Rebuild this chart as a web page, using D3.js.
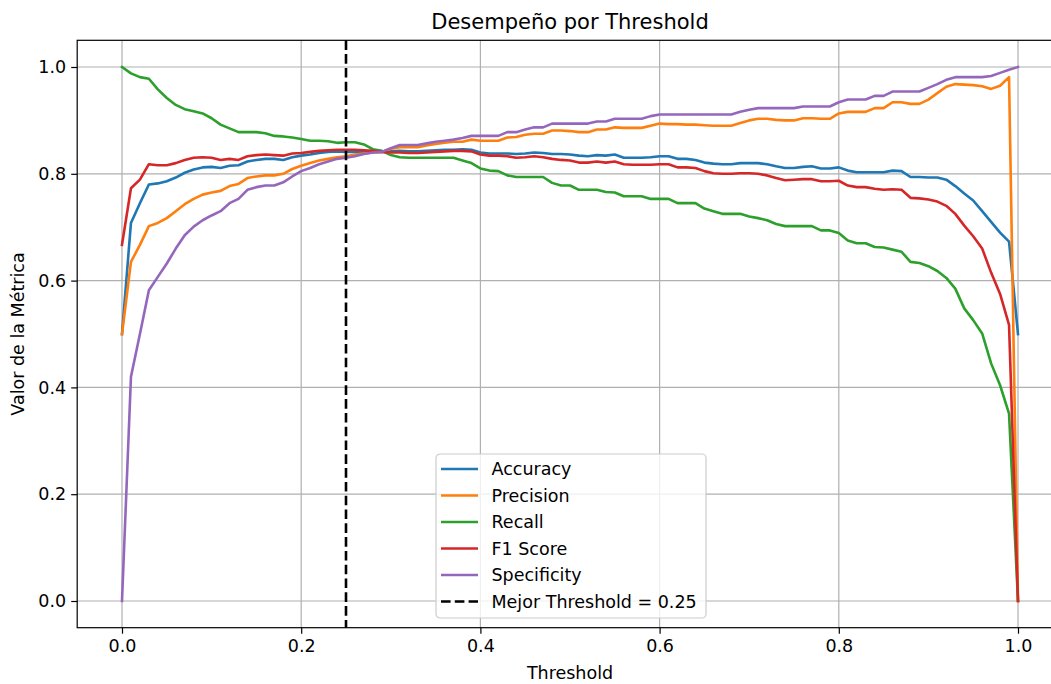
<!DOCTYPE html>
<html>
<head>
<meta charset="utf-8">
<script src="https://cdn.jsdelivr.net/npm/d3@7"></script>
<style>
  html, body { margin: 0; padding: 0; background: #fff; }
  svg { display: block; font-family: "DejaVu Sans", sans-serif; }
</style>
</head>
<body>
<svg id="chart" width="1051" height="684"></svg>
<script>
// Thresholds evaluated: 0.00 .. 1.00 in steps of 0.01
const thresholds = d3.range(101).map(i => +(i / 100).toFixed(2));

const accuracy = [
  0.500, 0.708, 0.745, 0.780, 0.782, 0.786, 0.793, 0.802, 0.808, 0.812,
  0.813, 0.811, 0.815, 0.816, 0.823, 0.826, 0.828, 0.828, 0.826, 0.831,
  0.834, 0.836, 0.839, 0.841, 0.842, 0.841, 0.841, 0.841, 0.841, 0.841,
  0.842, 0.843, 0.842, 0.842, 0.843, 0.844, 0.845, 0.845, 0.846, 0.845,
  0.840, 0.838, 0.838, 0.838, 0.837, 0.838, 0.840, 0.839, 0.837, 0.837,
  0.836, 0.834, 0.833, 0.835, 0.834, 0.836, 0.830, 0.830, 0.830, 0.831,
  0.833, 0.833, 0.828, 0.828, 0.826, 0.821, 0.819, 0.818, 0.818, 0.820,
  0.820, 0.820, 0.818, 0.814, 0.811, 0.811, 0.813, 0.814, 0.810, 0.810,
  0.812, 0.806, 0.803, 0.803, 0.803, 0.803, 0.806, 0.805, 0.794, 0.794,
  0.793, 0.793, 0.789, 0.777, 0.763, 0.750, 0.730, 0.710, 0.690, 0.673,
  0.500
];

const precision = [
  0.500, 0.635, 0.667, 0.702, 0.708, 0.717, 0.730, 0.743, 0.753, 0.761,
  0.765, 0.768, 0.777, 0.781, 0.792, 0.795, 0.797, 0.797, 0.800, 0.809,
  0.815, 0.820, 0.825, 0.828, 0.831, 0.833, 0.836, 0.838, 0.840, 0.841,
  0.847, 0.850, 0.850, 0.850, 0.853, 0.856, 0.858, 0.860, 0.860, 0.864,
  0.862, 0.862, 0.862, 0.868, 0.869, 0.873, 0.875, 0.875, 0.881, 0.881,
  0.880, 0.878, 0.878, 0.883, 0.883, 0.887, 0.886, 0.886, 0.886, 0.890,
  0.894, 0.893, 0.893, 0.892, 0.892, 0.891, 0.890, 0.890, 0.890, 0.895,
  0.900, 0.903, 0.903, 0.901, 0.900, 0.900, 0.904, 0.904, 0.903, 0.903,
  0.913, 0.916, 0.916, 0.916, 0.923, 0.923, 0.934, 0.934, 0.931, 0.931,
  0.939, 0.951, 0.963, 0.968, 0.967, 0.966, 0.964, 0.959, 0.965, 0.981,
  0.000
];

const recall = [
  1.000, 0.988, 0.981, 0.978, 0.958, 0.942, 0.929, 0.921, 0.917, 0.913,
  0.904, 0.892, 0.885, 0.878, 0.878, 0.878, 0.876, 0.871, 0.870, 0.868,
  0.865, 0.862, 0.862, 0.861, 0.858, 0.859, 0.859, 0.855, 0.846, 0.843,
  0.835, 0.831, 0.830, 0.830, 0.830, 0.830, 0.830, 0.830, 0.825, 0.820,
  0.810, 0.806, 0.805, 0.797, 0.794, 0.794, 0.794, 0.794, 0.783, 0.778,
  0.778, 0.770, 0.770, 0.770, 0.766, 0.765, 0.758, 0.758, 0.758, 0.753,
  0.753, 0.753, 0.745, 0.745, 0.745, 0.735, 0.730, 0.725, 0.725, 0.725,
  0.720, 0.717, 0.713, 0.706, 0.702, 0.702, 0.702, 0.702, 0.694, 0.694,
  0.689, 0.675, 0.670, 0.670, 0.663, 0.662, 0.658, 0.654, 0.635, 0.633,
  0.627, 0.618, 0.605, 0.585, 0.548, 0.526, 0.501, 0.445, 0.404, 0.351,
  0.000
];

const f1Score = [
  0.667, 0.773, 0.789, 0.818, 0.816, 0.816, 0.820, 0.826, 0.830, 0.831,
  0.830, 0.826, 0.828, 0.826, 0.833, 0.835, 0.836, 0.835, 0.834, 0.838,
  0.839, 0.841, 0.843, 0.844, 0.845, 0.845, 0.845, 0.844, 0.843, 0.841,
  0.840, 0.840, 0.839, 0.839, 0.840, 0.841, 0.842, 0.843, 0.843, 0.842,
  0.836, 0.834, 0.834, 0.833, 0.830, 0.831, 0.833, 0.831, 0.828, 0.826,
  0.825, 0.821, 0.821, 0.823, 0.821, 0.823, 0.818, 0.817, 0.817, 0.817,
  0.818, 0.818, 0.812, 0.812, 0.811, 0.805, 0.801, 0.800, 0.800, 0.801,
  0.801, 0.800, 0.797, 0.792, 0.788, 0.789, 0.790, 0.790, 0.786, 0.786,
  0.787, 0.778, 0.775, 0.775, 0.772, 0.770, 0.771, 0.770, 0.755, 0.754,
  0.752, 0.748, 0.740, 0.725, 0.703, 0.683, 0.660, 0.615, 0.575, 0.517,
  0.000
];

const specificity = [
  0.000, 0.420, 0.500, 0.582, 0.607, 0.632, 0.660, 0.685, 0.701, 0.713,
  0.722, 0.730, 0.745, 0.753, 0.770, 0.775, 0.778, 0.778, 0.784, 0.795,
  0.805, 0.811, 0.818, 0.823, 0.828, 0.830, 0.833, 0.837, 0.840, 0.841,
  0.848, 0.854, 0.854, 0.854, 0.857, 0.860, 0.862, 0.864, 0.867, 0.871,
  0.871, 0.871, 0.871, 0.878, 0.878, 0.883, 0.887, 0.887, 0.894, 0.894,
  0.894, 0.894, 0.894, 0.898, 0.898, 0.903, 0.903, 0.903, 0.903, 0.908,
  0.911, 0.911, 0.911, 0.911, 0.911, 0.911, 0.911, 0.911, 0.911, 0.916,
  0.920, 0.923, 0.923, 0.923, 0.923, 0.923, 0.926, 0.926, 0.926, 0.926,
  0.934, 0.939, 0.939, 0.939, 0.946, 0.946, 0.954, 0.954, 0.954, 0.954,
  0.961, 0.968, 0.976, 0.981, 0.981, 0.981, 0.981, 0.983, 0.989, 0.995,
  1.000
];

const seriesNames = ["Accuracy", "Precision", "Recall", "F1 Score", "Specificity"];
const seriesColors = ["#1f77b4", "#ff7f0e", "#2ca02c", "#d62728", "#9467bd"];
const seriesValues = [accuracy, precision, recall, f1Score, specificity];

const bestThreshold = 0.25;
const tickValues = [0, 0.2, 0.4, 0.6, 0.8, 1.0];

const titleText = "Desempeño por Threshold";
const xLabelText = "Threshold";
const yLabelText = "Valor de la Métrica";

// ---- layout ----
const svg = d3.select("#chart");
const W = 1051, H = 684;
const plot = { left: 77.2, right: 1062.8, top: 40.3, bottom: 627.7 };
const fontSize = 17.5;

svg.append("rect").attr("width", W).attr("height", H).attr("fill", "#fff");

const x = d3.scaleLinear().domain([-0.05, 1.05]).range([plot.left, plot.right]);
const y = d3.scaleLinear().domain([-0.05, 1.05]).range([plot.bottom, plot.top]);

// grid
const grid = svg.append("g").attr("stroke", "#b0b0b0").attr("stroke-width", 1.2);
grid.selectAll("line.vx").data(tickValues).join("line")
  .attr("x1", d => x(d)).attr("x2", d => x(d))
  .attr("y1", plot.top).attr("y2", plot.bottom);
grid.selectAll("line.hy").data(tickValues).join("line")
  .attr("class", "hy")
  .attr("x1", plot.left).attr("x2", plot.right)
  .attr("y1", d => y(d)).attr("y2", d => y(d));

// metric curves
const line = d3.line()
  .x((d, i) => x(thresholds[i]))
  .y(d => y(d));

const curves = svg.append("g").attr("fill", "none")
  .attr("stroke-width", 2.6)
  .attr("stroke-linejoin", "round")
  .attr("stroke-linecap", "square");
seriesValues.forEach((vals, k) => {
  curves.append("path")
    .attr("d", line(vals))
    .attr("stroke", seriesColors[k]);
});

// best threshold marker
svg.append("line")
  .attr("x1", x(bestThreshold)).attr("x2", x(bestThreshold))
  .attr("y1", plot.top).attr("y2", plot.bottom)
  .attr("stroke", "#000").attr("stroke-width", 2.6)
  .attr("stroke-dasharray", "9.6,4.2");

// axes frame
svg.append("rect")
  .attr("x", plot.left).attr("y", plot.top)
  .attr("width", plot.right - plot.left).attr("height", plot.bottom - plot.top)
  .attr("fill", "none").attr("stroke", "#000").attr("stroke-width", 1.2);

// x axis
const xAxis = d3.axisBottom(x).tickValues(tickValues)
  .tickFormat(d3.format(".1f")).tickSize(6).tickPadding(6);
const gx = svg.append("g").attr("transform", `translate(0,${plot.bottom})`).call(xAxis);
gx.select(".domain").remove();
gx.selectAll(".tick line").attr("stroke", "#000").attr("stroke-width", 1.2);
gx.selectAll(".tick text").attr("font-size", fontSize).attr("fill", "#000")
  .attr("font-family", "DejaVu Sans");

// y axis
const yAxis = d3.axisLeft(y).tickValues(tickValues)
  .tickFormat(d3.format(".1f")).tickSize(6).tickPadding(5);
const gy = svg.append("g").attr("transform", `translate(${plot.left},0)`).call(yAxis);
gy.select(".domain").remove();
gy.selectAll(".tick line").attr("stroke", "#000").attr("stroke-width", 1.2);
gy.selectAll(".tick text").attr("font-size", fontSize).attr("fill", "#000")
  .attr("font-family", "DejaVu Sans");

// labels
svg.append("text")
  .attr("x", (plot.left + plot.right) / 2).attr("y", 29)
  .attr("text-anchor", "middle").attr("font-size", 21).attr("fill", "#000")
  .text(titleText);

svg.append("text")
  .attr("x", (plot.left + plot.right) / 2).attr("y", 679)
  .attr("text-anchor", "middle").attr("font-size", fontSize).attr("fill", "#000")
  .text(xLabelText);

svg.append("text")
  .attr("transform", `translate(24,${(plot.top + plot.bottom) / 2}) rotate(-90)`)
  .attr("text-anchor", "middle").attr("font-size", fontSize).attr("fill", "#000")
  .text(yLabelText);

// legend
const legendItems = seriesNames.map((n, i) => ({ name: n, color: seriesColors[i], dash: null }))
  .concat([{ name: `Mejor Threshold = ${bestThreshold}`, color: "#000", dash: "9.6,4.2" }]);

const legend = svg.append("g").attr("transform", "translate(436,454)");
legend.append("rect")
  .attr("width", 270).attr("height", 164).attr("rx", 4)
  .attr("fill", "#fff").attr("fill-opacity", 0.8)
  .attr("stroke", "#cccccc").attr("stroke-width", 1.2);

const rows = legend.selectAll("g.row").data(legendItems).join("g")
  .attr("class", "row")
  .attr("transform", (d, i) => `translate(0,${15 + i * 26.5})`);
rows.append("line")
  .attr("x1", 5).attr("x2", 42).attr("y1", 0).attr("y2", 0)
  .attr("stroke", d => d.color).attr("stroke-width", 2.6)
  .attr("stroke-dasharray", d => d.dash);
rows.append("text")
  .attr("x", 55.5).attr("y", 0).attr("dy", "0.35em")
  .attr("font-size", fontSize).attr("fill", "#000")
  .text(d => d.name);
</script>
</body>
</html>
